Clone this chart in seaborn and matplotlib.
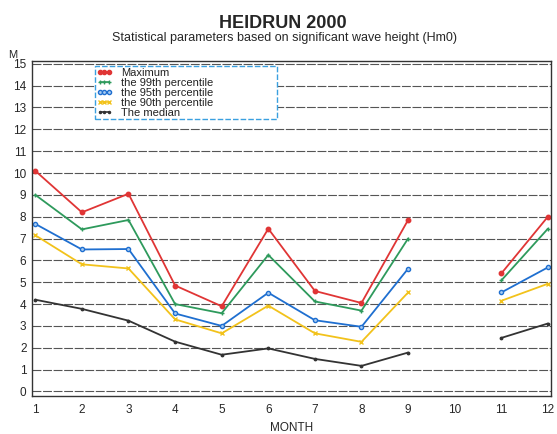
import numpy as np
import pandas as pd
import matplotlib
matplotlib.use("Agg")
import matplotlib.pyplot as plt
from matplotlib.lines import Line2D
from matplotlib.ticker import MultipleLocator
import seaborn as sns

months = [1, 2, 3, 4, 5, 6, 7, 8, 9, 10, 11, 12]
maximum = [10.1, 8.2, 9.05, 4.85, 3.9, 7.45, 4.6, 4.05, 7.85, np.nan, 5.4, 8.0]
p99 = [9.0, 7.42, 7.85, 4.0, 3.58, 6.25, 4.12, 3.7, 7.0, np.nan, 5.08, 7.45]
p95 = [7.67, 6.5, 6.52, 3.57, 3.0, 4.52, 3.26, 2.96, 5.62, np.nan, 4.53, 5.68]
p90 = [7.15, 5.82, 5.63, 3.3, 2.66, 3.93, 2.66, 2.27, 4.53, np.nan, 4.15, 4.93]
median = [4.2, 3.78, 3.24, 2.28, 1.68, 1.97, 1.49, 1.17, 1.78, np.nan, 2.45, 3.11]
series_names = ["Maximum", "the 99th percentile", "the 95th percentile",
                "the 90th percentile", "The median"]
x_ticks = [str(m) for m in months]
y_ticks = list(range(0, 16))

colors = ["#e03535", "#2e9a5c", "#1f6fd0", "#f2c21b", "#333333"]
markers = ["o", "+", "o", "x", "."]
msizes = [3.2, 3.5, 3.0, 3.0, 3.5]
faces = ["#e03535", "#2e9a5c", "#a8ccf2", "#f2c21b", "#333333"]

sns.set_style("white")
plt.rcParams['font.family'] = ['Liberation Sans', 'DejaVu Sans']

fig = plt.figure(figsize=(5.57, 4.34), dpi=100)
ax = fig.add_axes([0.0575, 0.088, 0.932, 0.771])

all_vals = [maximum, p99, p95, p90, median]
for name, vals, c, mk, ms, fc in zip(series_names, all_vals, colors, markers, msizes, faces):
    df = pd.DataFrame({"month": months, "value": vals})
    df["seg"] = df["value"].isna().cumsum()
    df = df.dropna()
    for s, sub in df.groupby("seg"):
        sns.lineplot(data=sub, x="month", y="value", ax=ax, color=c, lw=1.3,
                     marker=mk, markersize=ms, markeredgecolor=c, markerfacecolor=fc,
                     markeredgewidth=1.0, estimator=None, sort=False)

ax.set_xlim(0.93, 12.07)
ax.set_ylim(-0.2, 15.12)
ax.set_xticks(months)
ax.set_xticklabels(x_ticks, fontsize=8.5)
ax.set_yticks(y_ticks)
ax.set_yticklabels([str(v) for v in y_ticks], fontsize=8.5)
ax.xaxis.set_minor_locator(MultipleLocator(0.2))
ax.yaxis.set_minor_locator(MultipleLocator(0.2))
ax.tick_params(axis='both', which='major', direction='in', length=4, width=0.8,
               color='#333333', pad=4)
ax.tick_params(axis='both', which='minor', direction='in', length=2, width=0.6,
               color='#333333')
ax.tick_params(axis='x', pad=6)
ax.set_xlabel("MONTH", fontsize=8.5, labelpad=4)
ax.set_ylabel("")
for v in y_ticks:
    ax.axhline(v, color="#555555", lw=0.8, ls=(0, (8, 1.5)), zorder=0)
for sp in ax.spines.values():
    sp.set_color("#333333")
    sp.set_linewidth(1.0)

fig.text(0.015, 0.862, "M", fontsize=8, ha='left', va='bottom')

fig.text(0.508, 0.947, "HEIDRUN 2000", fontsize=13, fontweight='bold', ha='center', va='center')
fig.text(0.510, 0.912, "Statistical parameters based on significant wave height (Hm0)",
         fontsize=9, ha='center', va='center')

handles = []
for name, c, mk, fc in zip(series_names, colors, markers, faces):
    handles.append(Line2D([0], [0], color=c, lw=1.2, marker=mk, markersize=3,
                          markeredgecolor=c, markerfacecolor=fc))
leg = ax.legend(handles, series_names, loc='upper left',
                bbox_to_anchor=(0.121, 0.0, 0.351, 0.986), mode='expand',
                prop={'size': 8}, numpoints=3,
                handlelength=1.4, handletextpad=0.8,
                labelspacing=0.0, borderpad=0.15, frameon=True, fancybox=False,
                borderaxespad=0.0)
frame = leg.get_frame()
frame.set_edgecolor("#3aa0e0")
frame.set_linestyle((0, (4, 1.5)))
frame.set_linewidth(1.0)
frame.set_alpha(1)
for t in leg.get_texts():
    t.set_color("#222222")

fig.savefig("out.png", dpi=100, facecolor="white")
